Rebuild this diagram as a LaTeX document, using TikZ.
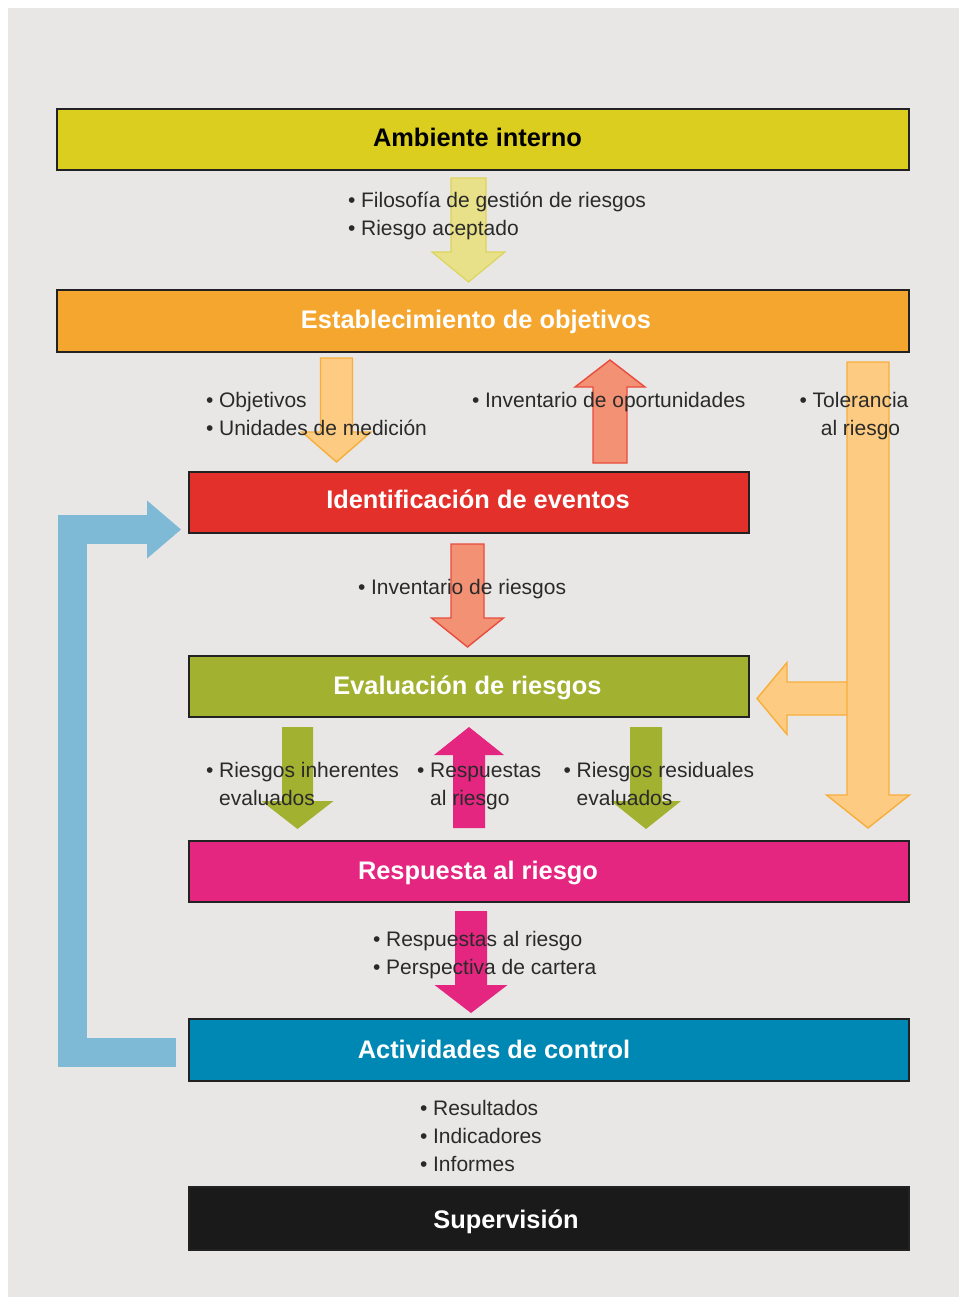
\documentclass[tikz,border=0pt]{standalone}
\usepackage{fontspec}
\setmainfont{Liberation Sans}
\usetikzlibrary{calc}

\definecolor{pageGrey}{HTML}{E8E7E5}
\definecolor{edgeDark}{HTML}{222222}
\definecolor{noteText}{HTML}{2A2A2A}
\definecolor{ambYellow}{HTML}{DCCE1E}
\definecolor{objOrange}{HTML}{F4A62E}
\definecolor{ideRed}{HTML}{E3302A}
\definecolor{evaOlive}{HTML}{A2B130}
\definecolor{resMagenta}{HTML}{E52681}
\definecolor{actBlue}{HTML}{0088B5}
\definecolor{supBlack}{HTML}{1A1A1A}
\definecolor{loopBlue}{HTML}{7EB9D6}
\definecolor{paleYellow}{HTML}{E9E08A}
\definecolor{paleYellowEdge}{HTML}{DCD55C}
\definecolor{paleOrange}{HTML}{FDCB82}
\definecolor{paleOrangeEdge}{HTML}{F7AE3B}
\definecolor{salmon}{HTML}{F29173}
\definecolor{salmonEdge}{HTML}{E94B3C}

% Block arrow from tail #2 to tip #3: shaft half width #4, head half width #5, head length #6
\newcommand\fatarrow[6]{%
  \path[#1] let \p1=(#2), \p2=(#3),
      \n1={veclen(\x2-\x1,\y2-\y1)},
      \n2={(\x2-\x1)/\n1}, \n3={(\y2-\y1)/\n1} in
    ({\x1-(\n3)*#4},{\y1+(\n2)*#4})
    -- ({\x2-(\n2)*#6-(\n3)*#4},{\y2-(\n3)*#6+(\n2)*#4})
    -- ({\x2-(\n2)*#6-(\n3)*#5},{\y2-(\n3)*#6+(\n2)*#5})
    -- (\p2)
    -- ({\x2-(\n2)*#6+(\n3)*#5},{\y2-(\n3)*#6-(\n2)*#5})
    -- ({\x2-(\n2)*#6+(\n3)*#4},{\y2-(\n3)*#6-(\n2)*#4})
    -- ({\x1+(\n3)*#4},{\y1-(\n2)*#4}) -- cycle;}

% bullet followed by a word space
\newcommand\bul{•\kern5.8pt}
\newcommand\bulletlist[1]{\begin{tabular}[t]{@{}l@{}l@{}}#1\end{tabular}}

\tikzset{
  stage/.style={draw=edgeDark, line width=1.5pt, inner sep=0pt, outer sep=0pt, anchor=north west},
  stagetitle/.style={font=\fontsize{25.4}{30}\selectfont\bfseries, text=white, anchor=base, inner sep=0pt},
  note/.style={font=\fontsize{21}{28}\selectfont, text=noteText, anchor=base west, inner sep=0pt},
  yellowflow/.style={fill=paleYellow, draw=paleYellowEdge, line width=1.2pt, line join=miter},
  orangeflow/.style={fill=paleOrange, draw=paleOrangeEdge, line width=1.4pt, line join=miter},
  salmonflow/.style={fill=salmon, draw=salmonEdge, line width=1.4pt, line join=miter},
  greenflow/.style={fill=evaOlive},
  magentaflow/.style={fill=resMagenta},
  loopflow/.style={draw=loopBlue, line width=29pt, line join=miter},
}

\begin{document}
\begin{tikzpicture}[x=1pt, y=-1pt]
  \useasboundingbox (0,0) rectangle (959,1297);
  \fill[pageGrey] (8,8) rectangle (959,1297);

  % stages of the process
  \node[stage, fill=ambYellow,  minimum width=852pt, minimum height=61pt] (amb) at (57,109) {};
  \node[stage, fill=objOrange,  minimum width=852pt, minimum height=62pt] (obj) at (57,290) {};
  \node[stage, fill=ideRed,     minimum width=560pt, minimum height=61pt] (ide) at (189,472) {};
  \node[stage, fill=evaOlive,   minimum width=560pt, minimum height=61pt] (eva) at (189,656) {};
  \node[stage, fill=resMagenta, minimum width=720pt, minimum height=61pt] (res) at (189,841) {};
  \node[stage, fill=actBlue,    minimum width=720pt, minimum height=62pt] (act) at (189,1019) {};
  \node[stage, fill=supBlack,   minimum width=720pt, minimum height=63pt] (sup) at (189,1187) {};

  \node[stagetitle, text=black] (ambT) at (477.5,147) {Ambiente interno};
  \node[stagetitle] (objT) at (476,328) {Establecimiento de objetivos};
  \node[stagetitle] (ideT) at (478,508.5) {Identificación de eventos};
  \node[stagetitle] (evaT) at (467.5,694) {Evaluación de riesgos};
  \node[stagetitle] (resT) at (478,879) {Respuesta al riesgo};
  \node[stagetitle] (actT) at (494,1058) {Actividades de control};
  \node[stagetitle] (supT) at (506,1228) {Supervisión};

  % flow arrows between stages
  \coordinate (aTail) at ($(amb.south)+(-14.5,8)$);
  \coordinate (aTip)  at ($(obj.north)+(-14.5,-8)$);
  \fatarrow{yellowflow}{aTail}{aTip}{17.5}{36.5}{30}

  \coordinate (oTail) at ($(obj.south)+(-146.5,6)$);
  \coordinate (oTip)  at ($(ide.north)+(-132.5,-10)$);
  \fatarrow{orangeflow}{oTail}{oTip}{16}{34.5}{30}

  \coordinate (pTail) at ($(ide.north)+(141,-9)$);
  \coordinate (pTip)  at ($(obj.south)+(127,8)$);
  \fatarrow{salmonflow}{pTail}{pTip}{17}{35}{27}

  \coordinate (bTail) at ($(eva.east)+(111,12)$);
  \coordinate (bTip)  at ($(eva.east)+(8,12)$);
  \fatarrow{orangeflow}{bTail}{bTip}{16.5}{36}{30}

  \coordinate (tTail) at ($(obj.south)+(385,10)$);
  \coordinate (tTip)  at ($(res.north)+(319,-13)$);
  \fatarrow{orangeflow}{tTail}{tTip}{21}{41.5}{33}

  \coordinate (rTail) at ($(ide.south)+(-1.5,11)$);
  \coordinate (rTip)  at ($(eva.north)+(-1.5,-9)$);
  \fatarrow{salmonflow}{rTail}{rTip}{16.5}{36}{29}

  \coordinate (gTail) at ($(eva.south)+(-171.5,10)$);
  \coordinate (gTip)  at ($(res.north)+(-251.5,-12)$);
  \fatarrow{greenflow}{gTail}{gTip}{15.5}{36}{28}

  \coordinate (mTail) at ($(res.north)+(-80,-13)$);
  \coordinate (mTip)  at ($(eva.south)+(0,10)$);
  \fatarrow{magentaflow}{mTail}{mTip}{16}{35}{28}

  \coordinate (hTail) at ($(eva.south)+(177,10)$);
  \coordinate (hTip)  at ($(res.north)+(97,-12)$);
  \fatarrow{greenflow}{hTail}{hTip}{16}{35}{28}

  \coordinate (cTail) at ($(res.south)+(-78,9)$);
  \coordinate (cTip)  at ($(act.north)+(-78,-6)$);
  \fatarrow{magentaflow}{cTail}{cTip}{16}{36.5}{28}

  % feedback loop from control activities back to event identification
  \coordinate (fbA) at ($(act.west)+(-13,2)$);
  \coordinate (fbB) at ($(ide.west)+(-8,27)$);
  \draw[loopflow] (fbA) -- ++(-103.5,0) |- ($(fbB)+(-33,0)$);
  \fill[loopBlue] (fbB) -- ++(-34,-29) -- ++(0,58) -- cycle;

  % information passed along each arrow
  \node[note] (n1) at (347.8,208) {\bulletlist{\bul&Filosofía de gestión de riesgos\\ \bul&Riesgo aceptado}};
  \node[note] (n2) at (205.8,407) {\bulletlist{\bul&Objetivos\\ \bul&Unidades de medición}};
  \node[note] (n3) at (471.8,407) {\bulletlist{\bul&Inventario de oportunidades}};
  \node[note] (n4) at (799.3,407) {\begin{tabular}[t]{@{}l@{}c@{}}\bul&Tolerancia\\ &al riesgo\end{tabular}};
  \node[note] (n5) at (357.8,594) {\bulletlist{\bul&Inventario de riesgos}};
  \node[note] (n6) at (205.8,777) {\bulletlist{\bul&Riesgos inherentes\\ &evaluados}};
  \node[note] (n7) at (416.8,777) {\bulletlist{\bul&Respuestas\\ &al riesgo}};
  \node[note] (n8) at (563.3,777) {\bulletlist{\bul&Riesgos residuales\\ &evaluados}};
  \node[note] (n9) at (372.8,946) {\bulletlist{\bul&Respuestas al riesgo\\ \bul&Perspectiva de cartera}};
  \node[note] (n10) at (419.8,1115) {\bulletlist{\bul&Resultados\\ \bul&Indicadores\\ \bul&Informes}};
\end{tikzpicture}
\end{document}
